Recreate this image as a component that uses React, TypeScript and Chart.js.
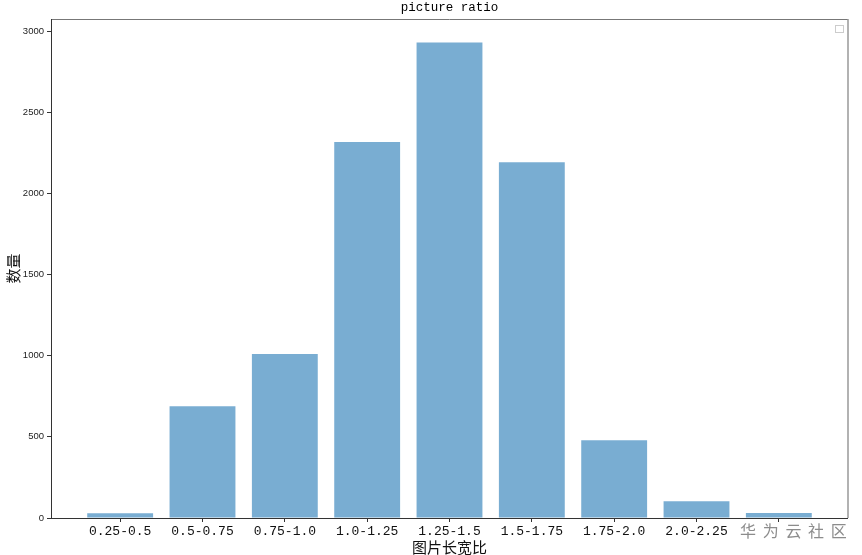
import React, { useEffect, useRef } from 'react';
import { Chart, registerables } from 'chart.js';
Chart.register(...registerables);

const categories = ['0.25-0.5', '0.5-0.75', '0.75-1.0', '1.0-1.25', '1.25-1.5', '1.5-1.75', '1.75-2.0', '2.0-2.25', '2.25-2.5'];
const counts = [30, 688, 1010, 2316, 2930, 2192, 479, 103, 31];
const yTicks = [0, 500, 1000, 1500, 2000, 2500, 3000];
const titleText = 'picture ratio';
const xTitle = '图片长宽比';
const yTitle = '数量';
const watermark = '华为云社区';

const MONO = '"Liberation Mono", "DejaVu Sans Mono", "Noto Sans CJK SC", monospace';
const CJK = '"Noto Sans CJK SC", sans-serif';

const decor = {
  id: 'decor',
  afterDraw(chart: any) {
    const { ctx, chartArea } = chart;
    const { left, right, top, bottom } = chartArea;
    ctx.save();
    // frame
    ctx.lineWidth = 1;
    ctx.strokeStyle = '#777';
    ctx.beginPath();
    ctx.moveTo(left, top + 0.5);
    ctx.lineTo(right, top + 0.5);
    ctx.stroke();
    ctx.strokeStyle = '#999';
    ctx.lineWidth = 1.5;
    ctx.beginPath();
    ctx.moveTo(right, top);
    ctx.lineTo(right, bottom);
    ctx.stroke();
    ctx.strokeStyle = '#333';
    ctx.lineWidth = 1;
    ctx.beginPath();
    ctx.moveTo(left + 0.5, top);
    ctx.lineTo(left + 0.5, bottom);
    ctx.moveTo(left, bottom + 0.5);
    ctx.lineTo(right, bottom + 0.5);
    ctx.stroke();
    // empty legend box
    ctx.strokeStyle = '#ccc';
    ctx.lineWidth = 1;
    ctx.strokeRect(right - 12.5, top + 6.5, 8, 7);
    // title
    ctx.fillStyle = '#000';
    ctx.textAlign = 'center';
    ctx.textBaseline = 'middle';
    ctx.font = `12.5px ${MONO}`;
    ctx.fillText(titleText, (left + right) / 2, 8);
    // x title
    ctx.font = `15px ${CJK}`;
    ctx.fillStyle = '#111';
    ctx.fillText(xTitle, (left + right) / 2, 547);
    // y title
    ctx.save();
    ctx.translate(13, (top + bottom) / 2);
    ctx.rotate(-Math.PI / 2);
    ctx.fillText(yTitle, 0, 0);
    ctx.restore();
    // watermark
    ctx.fillStyle = 'rgba(120,120,120,0.85)';
    ctx.font = `16px ${CJK}`;
    const chars = Array.from(watermark);
    chars.forEach((c, i) => {
      ctx.fillText(c, 748 + i * 22.7, 531);
    });
    ctx.restore();
  },
};

export default function App() {
  const ref = useRef<HTMLCanvasElement>(null);
  useEffect(() => {
    if (!ref.current) return;
    const chart = new Chart(ref.current, {
      type: 'bar',
      data: {
        datasets: [
          {
            data: counts.map((y, i) => ({ x: i, y })),
            backgroundColor: 'rgba(31,119,180,0.6)',
            borderWidth: 0,
            barPercentage: 0.8,
            categoryPercentage: 1,
          },
        ],
      },
      options: {
        responsive: false,
        animation: false,
        maintainAspectRatio: false,
        layout: { padding: { top: 19, right: 14, left: 0, bottom: 0 } },
        plugins: { legend: { display: false }, tooltip: { enabled: false }, title: { display: false } },
        scales: {
          x: {
            type: 'linear',
            min: -0.84,
            max: 8.84,
            offset: false,
            grid: { offset: false, drawOnChartArea: false, drawTicks: true, tickLength: 4, color: '#333' },
            border: { display: false },
            afterBuildTicks: (s: any) => {
              s.ticks = categories.map((_, i) => ({ value: i }));
            },
            afterFit: (s: any) => {
              s.height = 37;
            },
            ticks: {
              autoSkip: false,
              maxRotation: 0,
              padding: 2,
              color: '#111',
              font: { family: MONO, size: 13 },
              callback: (v: any) => (v === categories.length - 1 ? '' : categories[v]),
            },
          },
          y: {
            type: 'linear',
            min: 0,
            max: 3074,
            grid: { drawOnChartArea: false, drawTicks: true, tickLength: 4, color: '#333' },
            border: { display: false },
            afterBuildTicks: (s: any) => {
              s.ticks = yTicks.map((v) => ({ value: v }));
            },
            afterFit: (s: any) => {
              s.width = 51;
            },
            ticks: {
              padding: 3,
              color: '#222',
              font: { family: '"Liberation Sans", Arial, sans-serif', size: 9.5 },
              callback: (v: any) => String(v),
            },
          },
        },
      } as any,
      plugins: [decor],
    });
    return () => chart.destroy();
  }, []);
  return (
    <div style={{ position: 'absolute', left: 0, top: 0, width: 862, height: 555, background: '#fff' }}>
      <canvas ref={ref} width={862} height={555} style={{ display: 'block', width: 862, height: 555 }} />
    </div>
  );
}
